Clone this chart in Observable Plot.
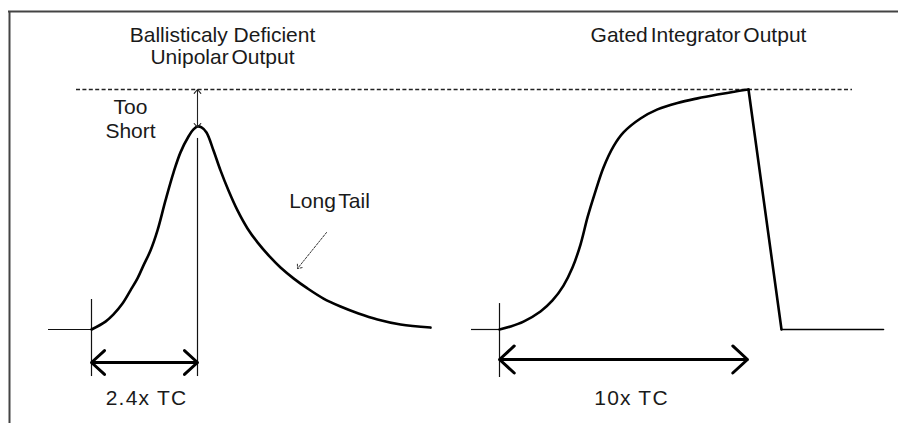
<!DOCTYPE html>
<html><head><meta charset="utf-8">
<script src="https://cdn.jsdelivr.net/npm/d3@7"></script>
<script src="https://cdn.jsdelivr.net/npm/@observablehq/plot@0.6"></script>
<style>
html,body{margin:0;padding:0;background:#fff;}
#chart{width:898px;height:423px;overflow:hidden;}
</style></head><body><div id="chart"></div>
<script>
// Time axis (arbitrary units) and amplitude (0 = baseline, 1 = full height)
const unipolarT = [91,105,113,122,130,137,143,150,157,165,173,180,188,193,197,201,206,213,220,228,237,247,257,270,280,293,307,323,340,358,377,400,430];
const unipolarV = [0,0.033,0.063,0.108,0.163,0.213,0.267,0.329,0.413,0.538,0.654,0.738,0.804,0.834,0.846,0.842,0.821,0.746,0.663,0.579,0.496,0.421,0.363,0.300,0.258,0.213,0.171,0.129,0.096,0.067,0.042,0.021,0.008];
const gatedT = [499,510,523,540,552,563,572,580,587,594,603,613,623,640,657,677,697,717,735,748];
const gatedV = [0,0.0125,0.033,0.075,0.121,0.183,0.258,0.354,0.467,0.563,0.675,0.763,0.821,0.879,0.917,0.944,0.963,0.979,0.992,1];
const gatedDropT = [748,781];
const gatedDropV = [1,0];
const gatedFlatT = [781,883];
const baselineStubStart = [48,471];
const baselineStubEnd = [91,499];
const fullLevel = 1;
const fullLevelT = [76,852];
const markerT = [91,197,499];
const markerTop = [0.125,0.796,0.108];
const markerBottom = [-0.196,-0.196,-0.2];
const dimFrom = [91,499];
const dimTo = [197,747];
const dimLevel = [-0.1375,-0.125];
const dimLabels = ["2.4x TC","10x TC"];
const dimLabelT = [146,631];
const dimLabelV = [-0.287,-0.285];
const titleLabels = ["Ballisticaly Deficient","Unipolar Output","Gated Integrator Output"];
const titleT = [222,222,698];
const titleV = [1.228,1.136,1.228];
const noteLabels = ["Too","Short","Long Tail"];
const noteT = [130,130,329];
const noteV = [0.927,0.827,0.536];
const shortfallT = 197;
const shortfallV = [1,0.842];
const tailPointer = {t1:326,v1:0.404,t2:297,v2:0.254};
const frameTopV = 1.325;
const frameLeftT = 9;
const yDomain = [-0.3917,1.3708];
const xDomain = [0,898];

const idx = a => d3.range(a.length);
const font = "Liberation Sans, Arial, Helvetica, sans-serif";
const midFrom = (a,b) => (a+b)/2;

const dimArrows = [];
dimFrom.forEach((f,i)=>{
  const m = midFrom(f,dimTo[i]);
  dimArrows.push({x1:m,x2:f,y:dimLevel[i]});
  dimArrows.push({x1:m,x2:dimTo[i],y:dimLevel[i]});
});
const shortMid = (shortfallV[0]+shortfallV[1])/2;
const shortArrows = [{y1:shortMid,y2:shortfallV[0]},{y1:shortMid,y2:shortfallV[1]}];

const chart = Plot.plot({
  width: 898,
  height: 423,
  margin: 0,
  x: {domain: xDomain, axis: null},
  y: {domain: yDomain, axis: null},
  style: {background:"#fff", fontFamily: font},
  marks: [
    // frame
    Plot.ruleY([frameTopV], {x1: frameLeftT - 1, x2: xDomain[1], stroke:"#444", strokeWidth:2}),
    Plot.ruleX([frameLeftT], {y1: frameTopV, y2: yDomain[0], stroke:"#444", strokeWidth:2}),
    // full-height reference
    Plot.ruleY([fullLevel], {x1: fullLevelT[0], x2: fullLevelT[1], stroke:"#222", strokeWidth:1.3, strokeDasharray:"4,2.4"}),
    // baseline stubs
    Plot.ruleY(idx(baselineStubStart), {y: () => 0, x1: i=>baselineStubStart[i], x2: i=>baselineStubEnd[i], stroke:"#111", strokeWidth:1.2}),
    // marker verticals
    Plot.ruleX(idx(markerT), {x: i=>markerT[i], y1: i=>markerTop[i], y2: i=>markerBottom[i], stroke:"#111", strokeWidth:1.2}),
    // pulses
    Plot.line(idx(unipolarT), {x: i=>unipolarT[i], y: i=>unipolarV[i], curve:"catmull-rom", stroke:"#000", strokeWidth:2.6}),
    Plot.line(idx(gatedT), {x: i=>gatedT[i], y: i=>gatedV[i], curve:"catmull-rom", stroke:"#000", strokeWidth:2.6}),
    Plot.line(idx(gatedDropT), {x: i=>gatedDropT[i], y: i=>gatedDropV[i], stroke:"#000", strokeWidth:2.6}),
    Plot.line(idx(gatedFlatT), {x: i=>gatedFlatT[i], y: () => 0, stroke:"#000", strokeWidth:1.6}),
    // dimension arrows
    Plot.arrow(dimArrows, {x1:"x1", x2:"x2", y1:"y", y2:"y", stroke:"#000", strokeWidth:3, headLength:10, headAngle:85}),
    // too short arrows
    Plot.arrow(shortArrows, {x1: () => shortfallT, x2: () => shortfallT, y1:"y1", y2:"y2", stroke:"#222", strokeWidth:1.1, headLength:7, headAngle:80}),
    // long tail pointer
    Plot.arrow([tailPointer], {x1:"t1", y1:"v1", x2:"t2", y2:"v2", stroke:"#333", strokeWidth:1, strokeDasharray:"2,1.5", headLength:7, headAngle:80}),
    // text
    Plot.text(idx(titleLabels), {x: i=>titleT[i], y: i=>titleV[i], text: i=>titleLabels[i], fontSize:21, fill:"#1a1a1a", fontFamily: font}),
    Plot.text(idx(noteLabels), {x: i=>noteT[i], y: i=>noteV[i], text: i=>noteLabels[i], fontSize:21, fill:"#1a1a1a", fontFamily: font}),
    Plot.text(idx(dimLabels), {x: i=>dimLabelT[i], y: i=>dimLabelV[i], text: i=>dimLabels[i], fontSize:21, fill:"#1a1a1a", fontFamily: font})
  ]
});
d3.select(chart).selectAll("text").each(function(){
  const t = this.textContent;
  if (t === "Gated Integrator Output" || t === "Long Tail" || t === "Unipolar Output") this.style.wordSpacing = "-3px";
  if (dimLabels.includes(t)) this.style.letterSpacing = "1.2px";
});
document.getElementById("chart").appendChild(chart);
</script></body></html>
